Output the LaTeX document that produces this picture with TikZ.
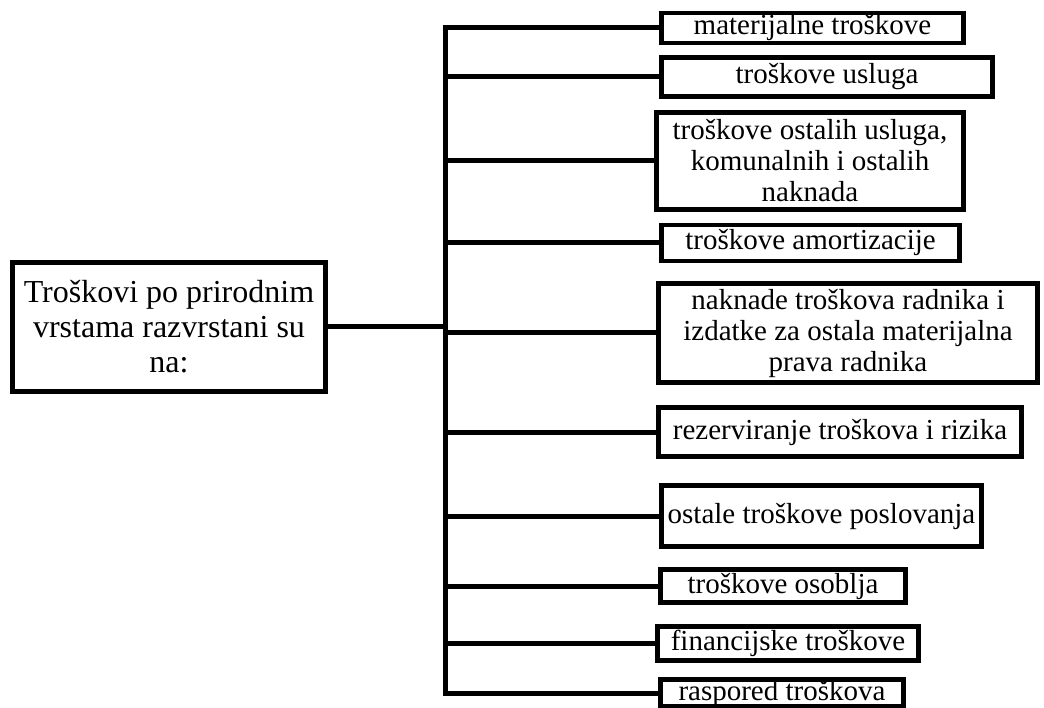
\documentclass[tikz,border=0pt]{standalone}
\usepackage{fontspec}
\setmainfont{Liberation Serif}
\begin{document}
\begin{tikzpicture}[x=1pt,y=-1pt,
  box/.style={draw, line width=4.8pt, rectangle, inner sep=0pt, align=center,
    font=\fontsize{29}{31}\selectfont},
  conn/.style={line width=5pt, line join=miter}]
\useasboundingbox (0,0) rectangle (1044,708);
\node[box, minimum width=313pt, minimum height=129pt, font=\fontsize{32}{35}\selectfont] (main) at (169,327)
  {Troškovi po prirodnim\\vrstama razvrstani su\\na:};
\node[box, minimum width=302pt, minimum height=30pt] (b1) at (812.5,28) {materijalne troškove};
\node[box, minimum width=331pt, minimum height=39pt] (b2) at (827,77) {troškove usluga};
\node[box, minimum width=307pt, minimum height=97pt] (b3) at (810,161) {troškove ostalih usluga,\\komunalnih i ostalih\\naknada};
\node[box, minimum width=298pt, minimum height=36pt] (b4) at (810.5,243) {troškove amortizacije};
\node[box, minimum width=379pt, minimum height=99pt] (b5) at (848,333) {naknade troškova radnika i\\izdatke za ostala materijalna\\prava radnika};
\node[box, minimum width=363pt, minimum height=49pt] (b6) at (840,432) {rezerviranje troškova i rizika};
\node[box, minimum width=320pt, minimum height=61pt] (b7) at (821.5,516) {ostale troškove poslovanja};
\node[box, minimum width=245pt, minimum height=33pt] (b8) at (783,586) {troškove osoblja};
\node[box, minimum width=261pt, minimum height=34pt] (b9) at (788,643.5) {financijske troškove};
\node[box, minimum width=243pt, minimum height=27pt] (b10) at (782,693) {raspored troškova};
\coordinate (tr) at (445,0);
\draw[conn] (b1.west) -- (b1.west -| tr) -- (b10.west -| tr) -- (b10.west);
\draw[conn] (main.east) -- (main.east -| tr);
\foreach \b in {b2,b3,b4,b5,b6,b7,b8,b9}
  \draw[conn] (\b.west -| tr) -- (\b.west);
\end{tikzpicture}
\end{document}
